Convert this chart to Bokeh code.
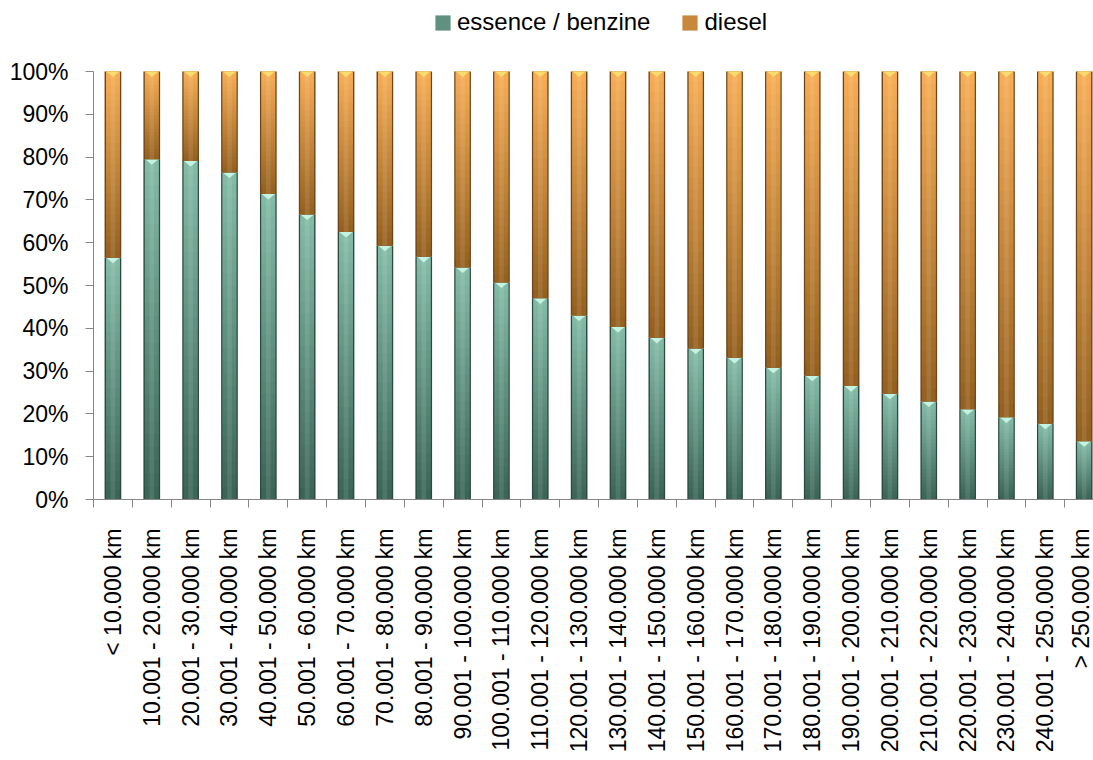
import math
from bokeh.plotting import figure
from bokeh.models import (Range1d, LinearAxis, FixedTicker, PrintfTickFormatter,
                          Legend, LegendItem)
from bokeh.embed import file_html
from bokeh.resources import INLINE

# ---------------- data ----------------
categories = [
    "< 10.000 km", "10.001 - 20.000 km", "20.001 - 30.000 km", "30.001 - 40.000 km",
    "40.001 - 50.000 km", "50.001 - 60.000 km", "60.001 - 70.000 km", "70.001 - 80.000 km",
    "80.001 - 90.000 km", "90.001 - 100.000 km", "100.001 - 110.000 km", "110.001 - 120.000 km",
    "120.001 - 130.000 km", "130.001 - 140.000 km", "140.001 - 150.000 km", "150.001 - 160.000 km",
    "160.001 - 170.000 km", "170.001 - 180.000 km", "180.001 - 190.000 km", "190.001 - 200.000 km",
    "200.001 - 210.000 km", "210.001 - 220.000 km", "220.001 - 230.000 km", "230.001 - 240.000 km",
    "240.001 - 250.000 km", "> 250.000 km",
]
essence = [56.5, 79.5, 79.1, 76.4, 71.4, 66.6, 62.5, 59.3, 56.7, 54.2, 50.7, 47.0, 43.0,
           40.3, 37.8, 35.3, 33.1, 30.8, 28.9, 26.5, 24.7, 22.9, 21.1, 19.2, 17.7, 13.6]
diesel = [43.5, 20.5, 20.9, 23.6, 28.6, 33.4, 37.5, 40.7, 43.3, 45.8, 49.3, 53.0, 57.0,
          59.7, 62.2, 64.7, 66.9, 69.2, 71.1, 73.5, 75.3, 77.1, 78.9, 80.8, 82.3, 86.4]
series_names = ["essence / benzine", "diesel"]
y_ticks = [0, 10, 20, 30, 40, 50, 60, 70, 80, 90, 100]

FONT = "Liberation Sans"

# frame covers the legend strip too; value axis only spans 0-100 %
Y_TOP = 100 * 499 / 428

# ---------------- figure ----------------
p = figure(width=1093, height=760,
           x_range=Range1d(0, 25.74), y_range=Range1d(0, Y_TOP),
           output_backend="svg", toolbar_location=None,
           x_axis_location=None, y_axis_location=None,
           min_border_left=93, min_border_right=0,
           min_border_top=0, min_border_bottom=261)
p.xgrid.visible = False
p.ygrid.visible = False
p.outline_line_color = None
p.background_fill_color = "white"
p.border_fill_color = "white"


def hex2rgb(h):
    h = h.lstrip("#")
    return tuple(int(h[i:i + 2], 16) for i in (0, 2, 4))


def lerp(c1, c2, t):
    a, b = hex2rgb(c1), hex2rgb(c2)
    return "#%02x%02x%02x" % tuple(int(round(a[i] + (b[i] - a[i]) * t)) for i in range(3))


xs = [i + 0.5 for i in range(len(categories))]
e_bot = [0.0] * len(essence)
e_top = list(essence)
d_bot = list(essence)
d_top = [e + d for e, d in zip(essence, diesel)]

segments = [
    # bottom, top, dark colour, light colour, edge colour, triangle colour
    (e_bot, e_top, "#3a6355", "#84bca8", "#2c4a40", "#c8f6e6"),
    (d_bot, d_top, "#93601f", "#f8ad55", "#6c471b", "#f8de6e"),
]

N = 26
legend_renderers = []
for bot, top, dark, light, edge, tri in segments:
    # dark edge (cylinder sides)
    p.vbar(x=xs, bottom=bot, top=top, width=0.43, fill_color=edge, line_color=None)
    mid = None
    for k in range(N):
        b = [bb + (tt - bb) * k / N for bb, tt in zip(bot, top)]
        t = [min(tt, bb + (tt - bb) * (k + 2) / N) for bb, tt in zip(bot, top)]
        col = lerp(dark, light, (k + 0.5) / N)
        r = p.vbar(x=xs, bottom=b, top=t, width=0.355, fill_color=col, line_color=None)
        if k == N // 2:
            mid = r
    # soft central highlight
    p.vbar(x=xs, bottom=bot, top=top, width=0.12, fill_color="white",
           fill_alpha=0.10, line_color=None)
    legend_renderers.append(mid)
    # bevel triangle at the top of each segment
    txs = [[x - 0.17, x + 0.17, x] for x in xs]
    tys = [[t, t, t - 1.3] for t in top]
    p.patches(xs=txs, ys=tys, fill_color=tri, line_color=None, fill_alpha=0.95)

# ---------------- axes ----------------
yaxis = LinearAxis(ticker=FixedTicker(ticks=y_ticks),
                   formatter=PrintfTickFormatter(format="%d%%"),
                   bounds=(0, 100))
yaxis.axis_line_color = "#868686"
yaxis.major_tick_line_color = "#868686"
yaxis.major_tick_out = 8
yaxis.major_tick_in = 0
yaxis.minor_tick_line_color = None
yaxis.major_label_text_font = FONT
yaxis.major_label_text_font_size = "23px"
yaxis.major_label_text_color = "black"
yaxis.major_label_standoff = 17
p.add_layout(yaxis, "left")

xaxis = LinearAxis(ticker=FixedTicker(ticks=xs, minor_ticks=list(range(len(categories) + 1))),
                   major_label_overrides={x: c for x, c in zip(xs, categories)})
xaxis.axis_line_color = "#868686"
xaxis.major_tick_out = 0
xaxis.major_tick_in = 0
xaxis.major_tick_line_color = None
xaxis.minor_tick_out = 8
xaxis.minor_tick_in = 0
xaxis.minor_tick_line_color = "#868686"
xaxis.major_label_orientation = math.pi / 2
xaxis.major_label_text_font = FONT
xaxis.major_label_text_font_size = "23px"
xaxis.major_label_text_color = "black"
xaxis.major_label_standoff = 21
p.add_layout(xaxis, "below")

# ---------------- legend ----------------
legend = Legend(items=[LegendItem(label=series_names[0], renderers=[legend_renderers[0]]),
                       LegendItem(label=series_names[1], renderers=[legend_renderers[1]])],
                orientation="horizontal", location=(340, 463),
                border_line_color=None, background_fill_alpha=0,
                label_text_font=FONT, label_text_font_size="24px",
                label_text_color="black",
                glyph_width=19, glyph_height=19, spacing=30, label_standoff=5,
                padding=2, margin=0)
p.add_layout(legend, "center")

open("out.html", "w").write(file_html(p, INLINE))
